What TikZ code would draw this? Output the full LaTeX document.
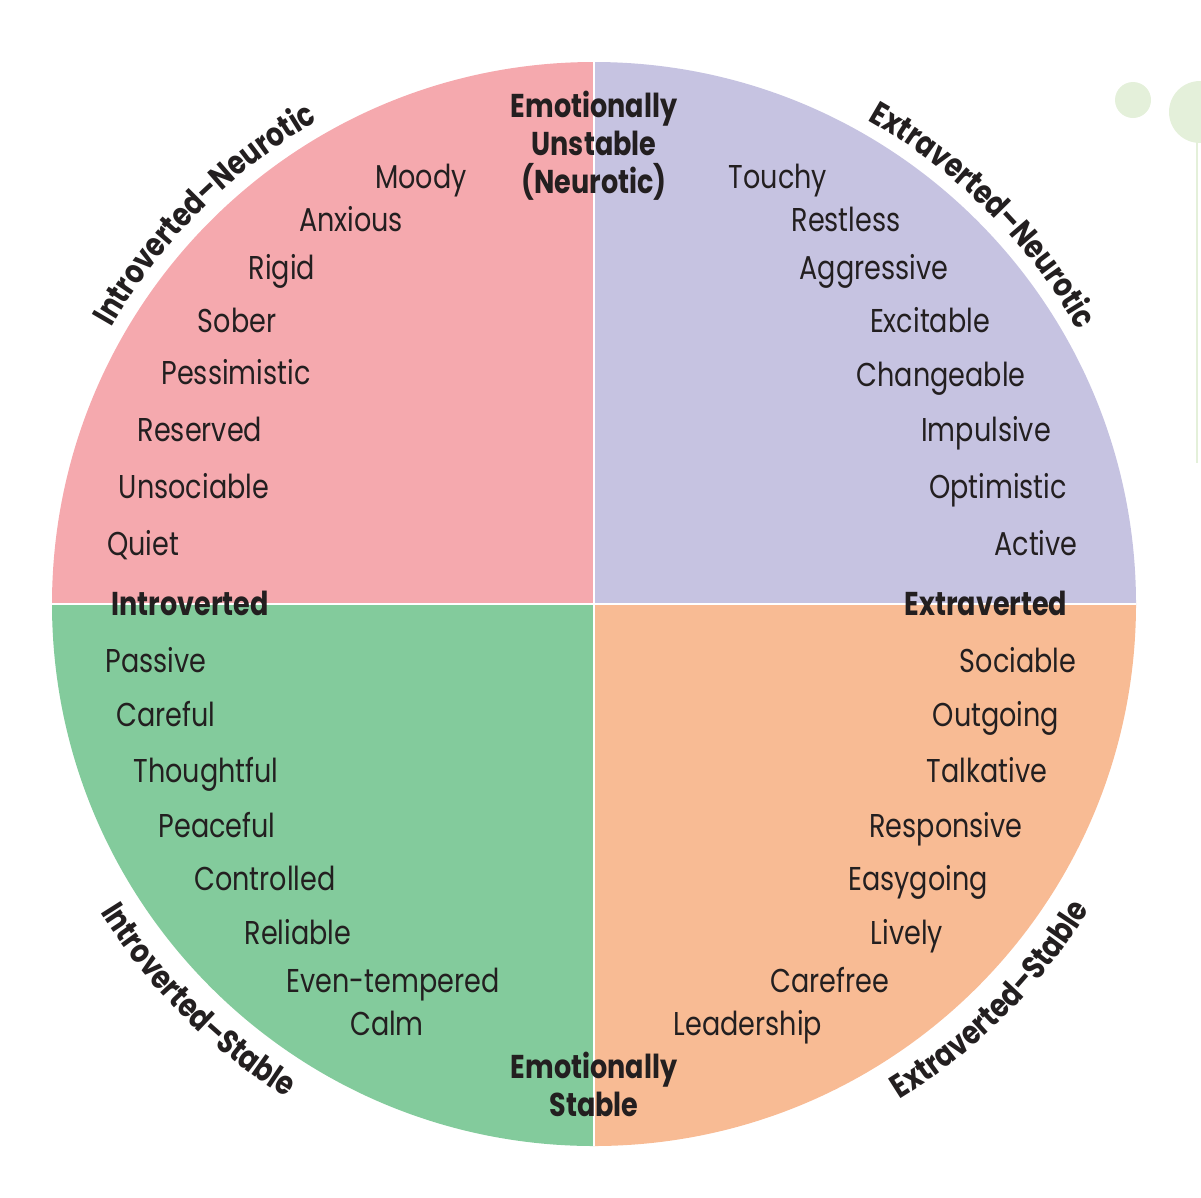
\documentclass[tikz,border=0pt]{standalone}
\usepackage{fontspec}
\setmainfont{Poppins}[FakeStretch=0.82]
\usetikzlibrary{decorations.text, calc}

\definecolor{neurpink}{HTML}{F5A9AE}
\definecolor{neurlilac}{HTML}{C6C3E1}
\definecolor{stablegreen}{HTML}{83CB9C}
\definecolor{stableorange}{HTML}{F8BB94}
\definecolor{inkdark}{HTML}{231F20}
\definecolor{leafgreen}{HTML}{E4F0DA}

\newcommand\traitfont{\fontsize{33}{38}\selectfont}
\newcommand\curvefont{\color{inkdark}\fontsize{33}{38}\selectfont\bfseries}

\begin{document}
\begin{tikzpicture}[x=1pt, y=1pt,
    trait/.style={font=\traitfont, text=inkdark, inner sep=0pt, anchor=base},
    poleword/.style={font=\traitfont\bfseries, text=inkdark, inner sep=0pt, align=center},
    arclabel/.style={decorate, decoration={text along path, text align=center, text={|\curvefont|#1}}}
  ]
  \useasboundingbox (0,0) rectangle (1201,-1197);
  \coordinate (c) at (594,-604);

  % quadrants
  \fill[neurpink] (c) -- ($(c)+(180:542)$) arc[start angle=180, end angle=90, radius=542] -- cycle;
  \fill[neurlilac] (c) -- ($(c)+(90:542)$) arc[start angle=90, end angle=0, radius=542] -- cycle;
  \fill[stableorange] (c) -- ($(c)+(0:542)$) arc[start angle=360, end angle=270, radius=542] -- cycle;
  \fill[stablegreen] (c) -- ($(c)+(270:542)$) arc[start angle=270, end angle=180, radius=542] -- cycle;
  \draw[white, line width=2.5] ($(c)+(90:542)$) -- ($(c)+(270:542)$);
  \draw[white, line width=2.5] ($(c)+(180:542)$) -- ($(c)+(0:542)$);

  % corner ornament
  \fill[leafgreen] (1133,-100) circle[radius=18];
  \fill[leafgreen] (1200,-112) circle[radius=31];
  \draw[leafgreen, line width=1.2] (1197,-140) -- (1197,-463);

  % traits
  \foreach \word/\x/\y in {Moody/421/188, Anxious/351/231, Rigid/282/279, Sober/237/332,
      Pessimistic/236/384, Reserved/200/441, Unsociable/194/498, Quiet/143/555,
      Touchy/778/188, Restless/846/231, Aggressive/874/279, Excitable/930/332,
      Changeable/941/386, Impulsive/986/441, Optimistic/998/498, Active/1036/555,
      Passive/156/672, Careful/166/726, Thoughtful/206/782, Peaceful/217/837,
      Controlled/265/890, Reliable/298/944, Even-tempered/393/992, Calm/387/1035,
      Sociable/1018/672, Outgoing/996/726, Talkative/987/782, Responsive/946/837,
      Easygoing/918/890, Lively/907/944, Carefree/830/992, Leadership/748/1035}
    \node[trait] (\word) at (\x,-\y) {\word};

  % poles
  \node[poleword, anchor=base] (introverted) at (190,-615) {Introverted};
  \node[poleword, anchor=base] (extraverted) at (986,-615) {Extraverted};
  \node[poleword] (unstable) at (594,-146) {Emotionally\\Unstable\\(Neurotic)};
  \node[poleword] (stable) at (594,-1084) {Emotionally\\Stable};

  % quadrant names
  \path[arclabel=Introverted–Neurotic] ($(c)+(160:556)$) arc[start angle=160, end angle=110, radius=556];
  \path[arclabel=Extraverted–Neurotic] ($(c)+(70:556)$) arc[start angle=70, end angle=20, radius=556];
  \path[arclabel=Introverted–Stable] ($(c)+(200:582)$) arc[start angle=200, end angle=250, radius=582];
  \path[arclabel=Extraverted–Stable] ($(c)+(290:582)$) arc[start angle=290, end angle=340, radius=582];
\end{tikzpicture}
\end{document}
